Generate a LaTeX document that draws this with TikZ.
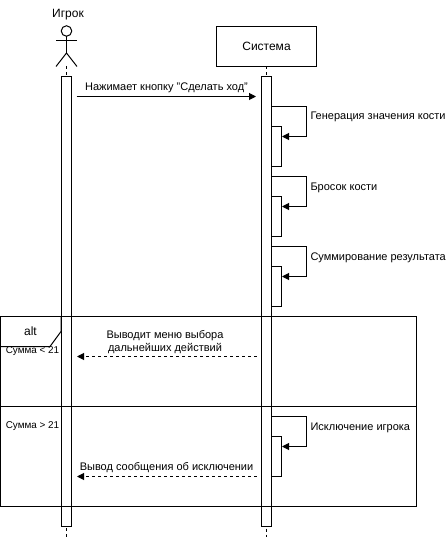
\documentclass[tikz,border=0pt]{standalone}
\usepackage{fontspec}
\setmainfont{Liberation Sans}
\usetikzlibrary{arrows, arrows.meta}
\usetikzlibrary{positioning}
\usetikzlibrary{calc}
\tikzset{
	lifebar/.style={rectangle, draw=black, fill=white, minimum width=10pt, minimum height=450pt, inner sep=0pt, outer sep=0pt},
	subbar/.style={rectangle, draw=black, fill=white, minimum width=10pt, minimum height=40pt, inner sep=0pt, outer sep=0pt},
	lbl/.style={inner sep=0pt, outer sep=0pt, font=\fontsize{11pt}{13pt}\selectfont, align=center},
	bigLbl/.style={inner sep=0pt, outer sep=0pt, font=\fontsize{12pt}{14pt}\selectfont},
	guard/.style={inner sep=0pt, outer sep=0pt, font=\fontsize{9.9pt}{12pt}\selectfont},
	msg/.style={-{Triangle[length=7pt,width=7pt]}},
	reply/.style={-{Triangle[length=7pt,width=7pt]}, dash pattern=on 3pt off 3pt},
	lifeline/.style={dash pattern=on 3pt off 3pt}
}
\begin{document}
\begin{tikzpicture}[x=1pt, y=-1pt, line width=1pt]
	\useasboundingbox (0,0) rectangle (446,537);
	% actor
	\node[circle, draw=black, minimum size=10.5pt, inner sep=0pt, outer sep=0pt] (head) at (66.5,31){};
	\coordinate (hip) at (66.5,53);
	\coordinate (armL) at (56,40.5);
	\coordinate (armR) at (77,40.5);
	\coordinate (footL) at (56,66.5);
	\coordinate (footR) at (77,66.5);
	\coordinate (actorEnd) at (66.5,66);
	\coordinate (actorTail) at (66.5,537);
	\draw[-] (head) -- (hip);
	\draw[-] (armL) -- (armR);
	\draw[-] (footL) -- (hip) -- (footR);
	\node[bigLbl] (actorName) at (68,15){Игрок};
	% system
	\node[rectangle, draw=black, minimum width=100pt, minimum height=40pt, inner sep=0pt, outer sep=0pt, bigLbl] (system) at (266.5,46.5){Система};
	\coordinate (sysTail) at (266.5,537);
	% lifelines and bars
	\draw[lifeline] (actorEnd) -- (actorTail);
	\draw[lifeline] (system) -- (sysTail);
	\node[lifebar] (actorBar) at (66.5,301.5){};
	\node[lifebar] (sysBar) at (266.5,301.5){};
	\node[subbar] (genBar) at (276.5,146.5){};
	\node[subbar] (rollBar) at (276.5,216.5){};
	\node[subbar] (sumBar) at (276.5,286.5){};
	\node[subbar] (kickBar) at (276.5,456.5){};
	% first call
	\coordinate (pressStart) at (76.5,96.5);
	\coordinate (pressEnd) at (256,96.5);
	\draw[msg] (pressStart) -- (pressEnd);
	\node[lbl] (pressLabel) at (166.5,87.5){Нажимает кнопку "Сделать ход"};
	% self calls
	\foreach \callname/\cally in {gen/106.5, roll/176.5, sum/246.5, kick/416.5}{
		\coordinate (\callname Start) at (271.5,\cally);
		\coordinate (\callname Turn) at (306.5,\cally+30);
		\coordinate (\callname End) at (282,\cally+30);
		\draw[msg] (\callname Start) -| (\callname Turn) -- (\callname End);
	}
	\node[lbl, anchor=west] (genLabel) at (310.5,117){Генерация значения кости};
	\node[lbl, anchor=west] (rollLabel) at (310.5,188){Бросок кости};
	\node[lbl, anchor=west] (sumLabel) at (310.5,258){Суммирование результата};
	\node[lbl, anchor=west] (kickLabel) at (310.5,428){Исключение игрока};
	% alt frame
	\node[rectangle, draw=black, minimum width=416pt, minimum height=190pt, inner sep=0pt, outer sep=0pt] (frame) at (208.5,411.5){};
	\coordinate (splitL) at (0.5,406.5);
	\coordinate (splitR) at (416.5,406.5);
	\draw[-] (splitL) -- (splitR);
	\coordinate (tabA) at (61,316.5);
	\coordinate (tabB) at (61,331.5);
	\coordinate (tabC) at (50,346.5);
	\coordinate (tabD) at (0.5,346.5);
	\draw[-] (tabA) -- (tabB) -- (tabC) -- (tabD);
	\node[bigLbl] (altLabel) at (30.5,331){alt};
	\node[guard] (guardLow) at (32.5,351){Сумма < 21};
	\node[guard] (guardHigh) at (32.5,426){Сумма > 21};
	% replies
	\coordinate (menuStart) at (256.5,356.5);
	\coordinate (menuEnd) at (77,356.5);
	\draw[reply] (menuStart) -- (menuEnd);
	\node[lbl] (menuLabel) at (165,342){Выводит меню выбора\\дальнейших действий};
	\coordinate (noteStart) at (256.5,476.5);
	\coordinate (noteEnd) at (77,476.5);
	\draw[reply] (noteStart) -- (noteEnd);
	\node[lbl] (noteLabel) at (166.5,467.5){Вывод сообщения об исключении};
\end{tikzpicture}
\end{document}
